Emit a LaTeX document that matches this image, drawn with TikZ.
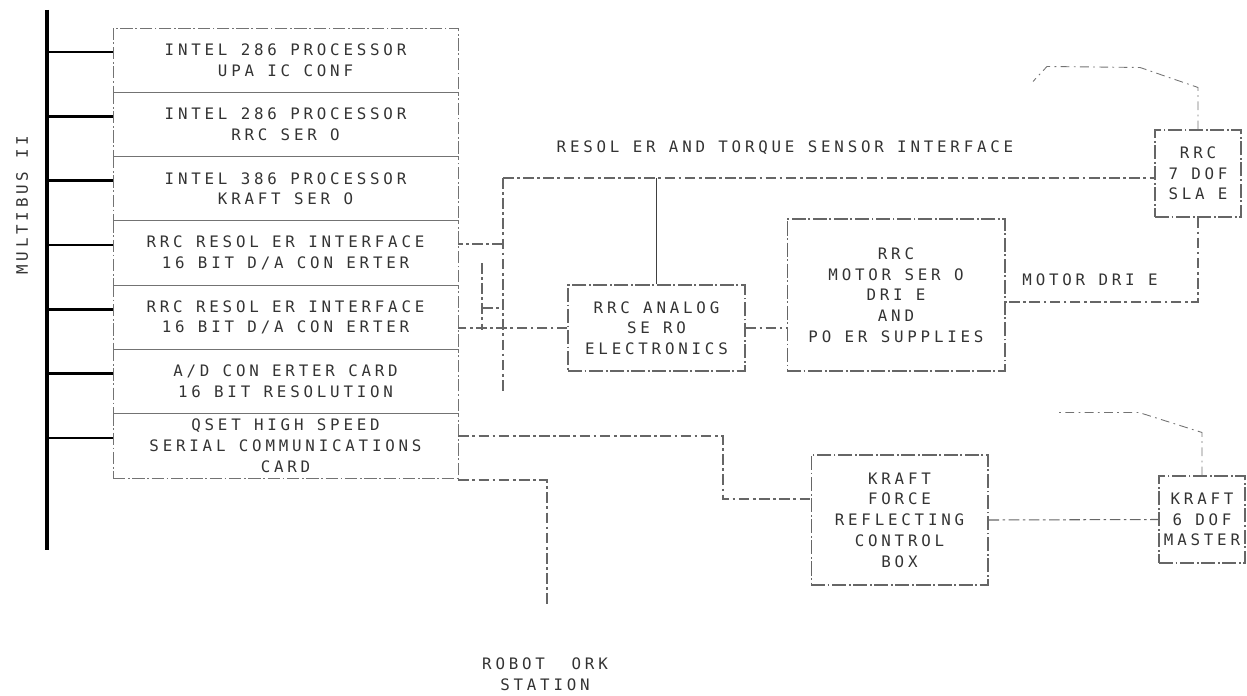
\documentclass[tikz,border=0pt]{standalone}
\usepackage{fontspec}
\newfontfamily\plotfont[LetterSpace=24]{DejaVu Sans Mono}

\tikzset{
  card/.style={draw=black!55,line width=0.5pt,
               dash pattern=on 7pt off 1.5pt on 1pt off 1.5pt,
               minimum width=6.9cm,minimum height=1.286cm},
  unit/.style={draw=black!60,line width=0.6pt,
               dash pattern=on 8pt off 1.5pt on 1pt off 1.5pt},
  wire/.style={draw=black!60,line width=0.6pt,
               dash pattern=on 6pt off 2pt on 1.5pt off 2pt},
  cable/.style={draw=black!55,line width=0.5pt,
                dash pattern=on 5pt off 2.5pt on 1pt off 2.5pt},
}

\begin{document}
\begin{tikzpicture}[x=0.02cm,y=-0.02cm,
    every node/.style={font=\plotfont\fontsize{9}{11.8}\selectfont,
                       text=black!80,inner sep=1pt,align=center}]
  \useasboundingbox (0,0) rectangle (1247,696);
  % backplane with the seven cards
  \coordinate (bustop) at (47,10);
  \coordinate (busbot) at (47,550);
  \draw[line width=2.4pt] (bustop) -- (busbot);
  \node[rotate=90] (mb) at (22,205) {MULTIBUS II};
  \node[card] (s1) at (285.5,60.1)  {INTEL 286 PROCESSOR\\UPA IC CONF};
  \node[card] (s2) at (285.5,124.4) {INTEL 286 PROCESSOR\\RRC SER O};
  \node[card] (s3) at (285.5,188.7) {INTEL 386 PROCESSOR\\KRAFT SER O};
  \node[card] (s4) at (285.5,253.0) {RRC RESOL ER INTERFACE\\16 BIT D/A CON ERTER};
  \node[card] (s5) at (285.5,317.3) {RRC RESOL ER INTERFACE\\16 BIT D/A CON ERTER};
  \node[card] (s6) at (285.5,381.6) {A/D CON ERTER CARD\\16 BIT RESOLUTION};
  \node[card] (s7) at (285.5,445.9) {QSET HIGH SPEED\\SERIAL COMMUNICATIONS\\CARD};
  \foreach \i in {1,...,7}{
    \path (s\i.west) ++(0,-8) coordinate (st\i);
    \draw[line width=1.4pt] (st\i) -- (bustop |- st\i);}

  % slave arm side
  \node[unit,minimum width=3.54cm,minimum height=1.72cm] (analog) at (656.5,328)
       {RRC ANALOG\\SE RO\\ELECTRONICS};
  \node[unit,minimum width=4.36cm,minimum height=3.04cm] (motor) at (896,295)
       {RRC\\MOTOR SER O\\DRI E\\AND\\PO ER SUPPLIES};
  \node[unit,minimum width=1.72cm,minimum height=1.74cm] (slave) at (1198,173.5)
       {RRC\\7 DOF\\SLA E};
  \coordinate (jtop) at (503,178);
  \coordinate (jbot) at (503,393);
  \draw[wire] (jtop) -- (jbot);
  \draw[wire] (jtop) -- (jtop -| slave.west);
  \node (rlabel) at (785,148) {RESOL ER AND TORQUE SENSOR INTERFACE};
  \draw[black!75,line width=0.7pt] (analog.north) -- (analog.north |- jtop);
  \coordinate (j4) at (503,244);
  \draw[wire] (j4) -- (j4 -| s4.east);
  \coordinate (ja) at (482,263);
  \coordinate (jb) at (482,330);
  \coordinate (jc) at (482,308);
  \draw[wire] (ja) -- (jb);
  \draw[wire] (jc) -- (jc -| jtop);
  \draw[wire] (analog.west) -- (analog.west -| s5.east);
  \draw[wire] (analog.east) -- (analog.east -| motor.west);
  \coordinate (md) at (1198,302);
  \draw[wire] (slave.south) -- (md) -- (md -| motor.east);
  \node (mdlabel) at (1090,280) {MOTOR DRI E};
  \draw[cable] (slave.north) -- ++(0,-42) -- ++(-58,-20) -- ++(-93,-1) -- ++(-14,15);

  % master arm side
  \node[unit,minimum width=3.54cm,minimum height=2.6cm] (force) at (899.5,520)
       {KRAFT\\FORCE\\REFLECTING\\CONTROL\\BOX};
  \node[unit,minimum width=1.72cm,minimum height=1.74cm] (master) at (1202,519.5)
       {KRAFT\\6 DOF\\MASTER};
  \coordinate (k1) at (723,436);
  \coordinate (k2) at (723,499);
  \draw[wire] (k1 -| s7.east) -- (k1) -- (k2) -- (k2 -| force.west);
  \draw[wire] (force.east) -- (master.west);
  \draw[cable] (master.north) -- ++(0,-43) -- ++(-63,-20) -- ++(-81,0);
  \coordinate (w1) at (547,480);
  \coordinate (w2) at (547,607);
  \draw[wire] (w1 -| s7.east) -- (w1) -- (w2);
  \node (robot) at (545,674) {ROBOT\ \ ORK\\STATION};
\end{tikzpicture}
\end{document}
